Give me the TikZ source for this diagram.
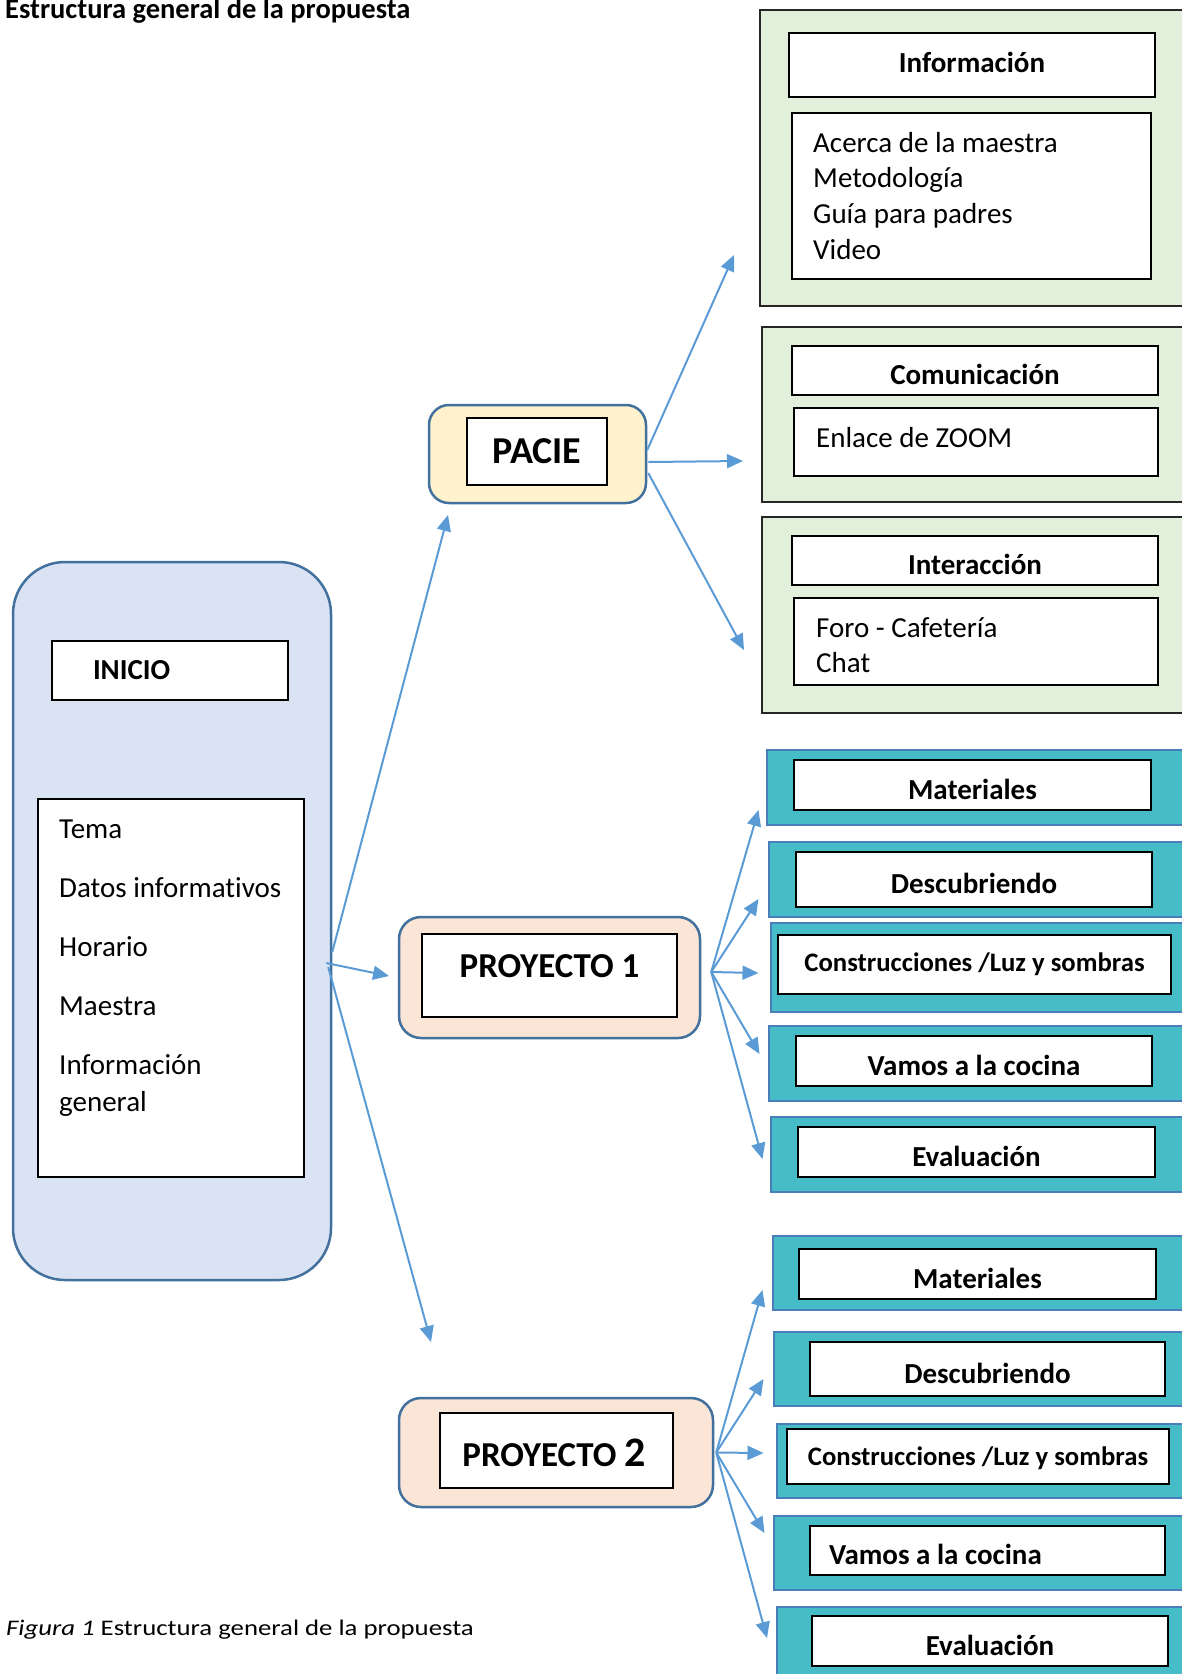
\documentclass[tikz,border=0pt]{standalone}
\usepackage{fontspec}
\setmainfont[Ligatures=NoCommon]{Carlito}
\newfontfamily\captionfont[FakeStretch=1.2, Ligatures=NoCommon]{Carlito}
\usetikzlibrary{arrows.meta}
\definecolor{edgeblue}{HTML}{41719C}
\definecolor{inicioback}{HTML}{DAE3F3}
\definecolor{pacieback}{HTML}{FFF2CC}
\definecolor{proyback}{HTML}{FBE5D6}
\definecolor{greenback}{HTML}{E2EFDA}
\definecolor{tealback}{HTML}{46BDC6}
\definecolor{tealedge}{HTML}{4A7EBB}
\definecolor{arrowblue}{HTML}{5B9BD5}

\begin{document}
\begin{tikzpicture}[x=1pt, y=-1pt,
	roundbox/.style={draw=edgeblue, line width=2.5pt, rounded corners=#1, inner sep=0pt},
	whitebox/.style={draw=black, fill=white, line width=1.8pt, inner sep=0pt},
	greenbox/.style={draw=black!85, fill=greenback, line width=1.8pt, inner sep=0pt},
	tealbox/.style={draw=tealedge, fill=tealback, line width=2.5pt, inner sep=0pt},
	bodytxt/.style={font=\fontsize{29}{35.7}\selectfont, inner sep=0pt},
	headtxt/.style={font=\bfseries\fontsize{29}{35}\selectfont},
	headlow/.style={headtxt, text height=28pt, text depth=0pt},
	arrowline/.style={draw=arrowblue, line width=2pt, -{Triangle[length=16pt, width=14pt]}}]
	\useasboundingbox (0,0) rectangle (1182,1674);
	% titulo y pie
	\node[anchor=base west, inner sep=0pt, font=\bfseries\fontsize{28.5}{32}\selectfont] (title) at (5,18.5) {Estructura general de la propuesta};
	\node[anchor=base west, inner sep=0pt, font=\captionfont\fontsize{22.3}{26}\selectfont] (caption) at (6,1635) {\textit{Figura 1} Estructura general de la propuesta};
	% inicio
	\node[roundbox=52pt, fill=inicioback, minimum width=318pt, minimum height=718pt] (inicio) at (172,921) {};
	\node[whitebox, headtxt, minimum height=59pt, text width=154pt, inner xsep=41pt, align=flush left] (inicioHead) at (170,670.5) {INICIO};
	\node[whitebox, minimum width=266pt, minimum height=378pt] (inicioList) at (171,988) {};
	\node[bodytxt, font=\fontsize{29}{37}\selectfont, anchor=base west, text width=240pt, align=flush left] (inicioText) at (59,838)
		{Tema\\[22pt]Datos informativos\\[22pt]Horario\\[22pt]Maestra\\[22pt]Información\\general};
	% pacie
	\node[roundbox=20pt, fill=pacieback, minimum width=217pt, minimum height=98pt] (pacie) at (537.5,454) {};
	\node[whitebox, font=\bfseries\fontsize{38}{42}\selectfont, minimum width=140pt, minimum height=67pt] (pacieIn) at (537,451.5) {PACIE};
	% bloques verdes
	\node[greenbox, minimum width=424pt, minimum height=296pt] (info) at (972,158) {};
	\node[whitebox, headtxt, text height=20pt, text depth=6pt, minimum width=366pt, minimum height=64pt] (infoHead) at (972,65) {Información};
	\node[whitebox, minimum width=359pt, minimum height=166pt] (infoList) at (971.5,196) {};
	\node[bodytxt, anchor=base west, text width=320pt, align=flush left] (infoText) at (813,152)
		{Acerca de la maestra\\Metodología\\Guía para padres\\Video};
	\node[greenbox, minimum width=422pt, minimum height=175pt] (com) at (973,414.5) {};
	\node[whitebox, headlow, minimum width=366pt, minimum height=49pt] (comHead) at (975,370.5) {Comunicación};
	\node[whitebox, minimum width=364pt, minimum height=68pt] (comBody) at (976,442) {};
	\node[bodytxt, anchor=base west] (comText) at (816,447) {Enlace de ZOOM};
	\node[greenbox, minimum width=422pt, minimum height=196pt] (inter) at (973,615) {};
	\node[whitebox, headlow, minimum width=366pt, minimum height=49pt] (interHead) at (975,560.5) {Interacción};
	\node[whitebox, minimum width=364pt, minimum height=87pt] (interBody) at (976,641.5) {};
	\node[bodytxt, anchor=base west, text width=320pt, align=flush left] (interText) at (816,637)
		{Foro - Cafetería\\Chat};
	% proyecto 1
	\node[roundbox=22pt, fill=proyback, minimum width=301pt, minimum height=121pt] (p1) at (549.5,977.5) {};
	\node[whitebox, minimum width=255pt, minimum height=83pt] (p1In) at (549.5,975.5) {};
	\node[anchor=base, inner sep=0pt, font=\bfseries\fontsize{35}{40}\selectfont] (p1Text) at (549.5,977) {PROYECTO 1};
	\node[tealbox, minimum width=417pt, minimum height=75pt] (matA) at (975.5,787.5) {};
	\node[whitebox, headlow, minimum width=357pt, minimum height=50pt] (matAIn) at (972.5,785) {Materiales};
	\node[tealbox, minimum width=415pt, minimum height=75pt] (desA) at (976.5,879.5) {};
	\node[whitebox, headlow, minimum width=356pt, minimum height=55pt] (desAIn) at (974,879.5) {Descubriendo};
	\node[tealbox, minimum width=413pt, minimum height=89pt] (conA) at (977.5,967.5) {};
	\node[whitebox, headtxt, font=\bfseries\fontsize{26.7}{32}\selectfont, minimum width=393pt, minimum height=59pt] (conAIn) at (974.5,964.5) {Construcciones /Luz y sombras};
	\node[tealbox, minimum width=415pt, minimum height=75pt] (vamA) at (976.5,1063.5) {};
	\node[whitebox, headlow, minimum width=356pt, minimum height=50pt] (vamAIn) at (974,1061) {Vamos a la cocina};
	\node[tealbox, minimum width=413pt, minimum height=75pt] (evaA) at (977.5,1154.5) {};
	\node[whitebox, headlow, minimum width=357pt, minimum height=50pt] (evaAIn) at (976.5,1152) {Evaluación};
	% proyecto 2
	\node[roundbox=22pt, fill=proyback, minimum width=314pt, minimum height=109pt] (p2) at (556,1452.5) {};
	\node[whitebox, minimum width=233pt, minimum height=75pt] (p2In) at (556.5,1450.5) {};
	\node[anchor=base, inner sep=0pt, font=\bfseries\fontsize{35}{40}\selectfont] (p2Text) at (554,1466) {PROYECTO {\fontsize{42}{44}\selectfont 2}};
	\node[tealbox, minimum width=411pt, minimum height=74pt] (matB) at (978.5,1273) {};
	\node[whitebox, headlow, minimum width=357pt, minimum height=50pt] (matBIn) at (977.5,1274) {Materiales};
	\node[tealbox, minimum width=410pt, minimum height=74pt] (desB) at (979,1369) {};
	\node[whitebox, headlow, minimum width=355pt, minimum height=54pt] (desBIn) at (987.5,1369) {Descubriendo};
	\node[tealbox, minimum width=407pt, minimum height=74pt] (conB) at (980.5,1461) {};
	\node[whitebox, headtxt, font=\bfseries\fontsize{26.7}{32}\selectfont, text depth=0pt, minimum width=382pt, minimum height=55pt] (conBIn) at (978,1456.5) {Construcciones /Luz y sombras};
	\node[tealbox, minimum width=410pt, minimum height=74pt] (vamB) at (979,1553) {};
	\node[whitebox, headlow, minimum height=49pt, text width=317pt, inner xsep=19pt, align=flush left] (vamBIn) at (987.5,1550.5) {Vamos a la cocina};
	\node[tealbox, minimum width=407pt, minimum height=83pt] (evaB) at (980.5,1648.5) {};
	\node[whitebox, headlow, minimum width=356pt, minimum height=50pt] (evaBIn) at (990,1641) {Evaluación};
	% flechas
	\coordinate (pacieTip) at (448,515);
	\coordinate (p1Tip) at (389,976);
	\coordinate (p2Tip) at (431,1342);
	\coordinate (infoTip) at (734,255);
	\coordinate (comTip) at (743,461);
	\coordinate (interTip) at (744,650);
	\coordinate (p1Fan) at ([xshift=10pt, yshift=5.5pt]p1.east);
	\coordinate (p2Fan) at ([xshift=2pt]p2.east);
	\foreach \n/\x/\y in {a/758.5/810, b/758.5/899, c/758.5/973, d/759.5/1054, e/762.5/1159}
		\coordinate (\n1tip) at (\x,\y);
	\foreach \n/\x/\y in {a/762.5/1290, b/763.5/1379, c/763.5/1453, d/764.5/1533, e/767/1638}
		\coordinate (\n2tip) at (\x,\y);
	\draw[arrowline] ([yshift=-31pt]inicio.east) -- (pacieTip);
	\draw[arrowline] ([xshift=-6pt, yshift=-42pt]inicio.east) -- (p1Tip);
	\draw[arrowline] ([xshift=-4pt, yshift=-46pt]inicio.east) -- (p2Tip);
	\draw[arrowline] ([yshift=4pt]pacie.east) -- (infoTip);
	\draw[arrowline] ([xshift=1pt, yshift=-8pt]pacie.east) -- (comTip);
	\draw[arrowline] ([xshift=1pt, yshift=-19pt]pacie.east) -- (interTip);
	\foreach \n in {a,b,c,d,e} {
		\draw[arrowline] (p1Fan) -- (\n1tip);
		\draw[arrowline] (p2Fan) -- (\n2tip);
	}
\end{tikzpicture}
\end{document}
